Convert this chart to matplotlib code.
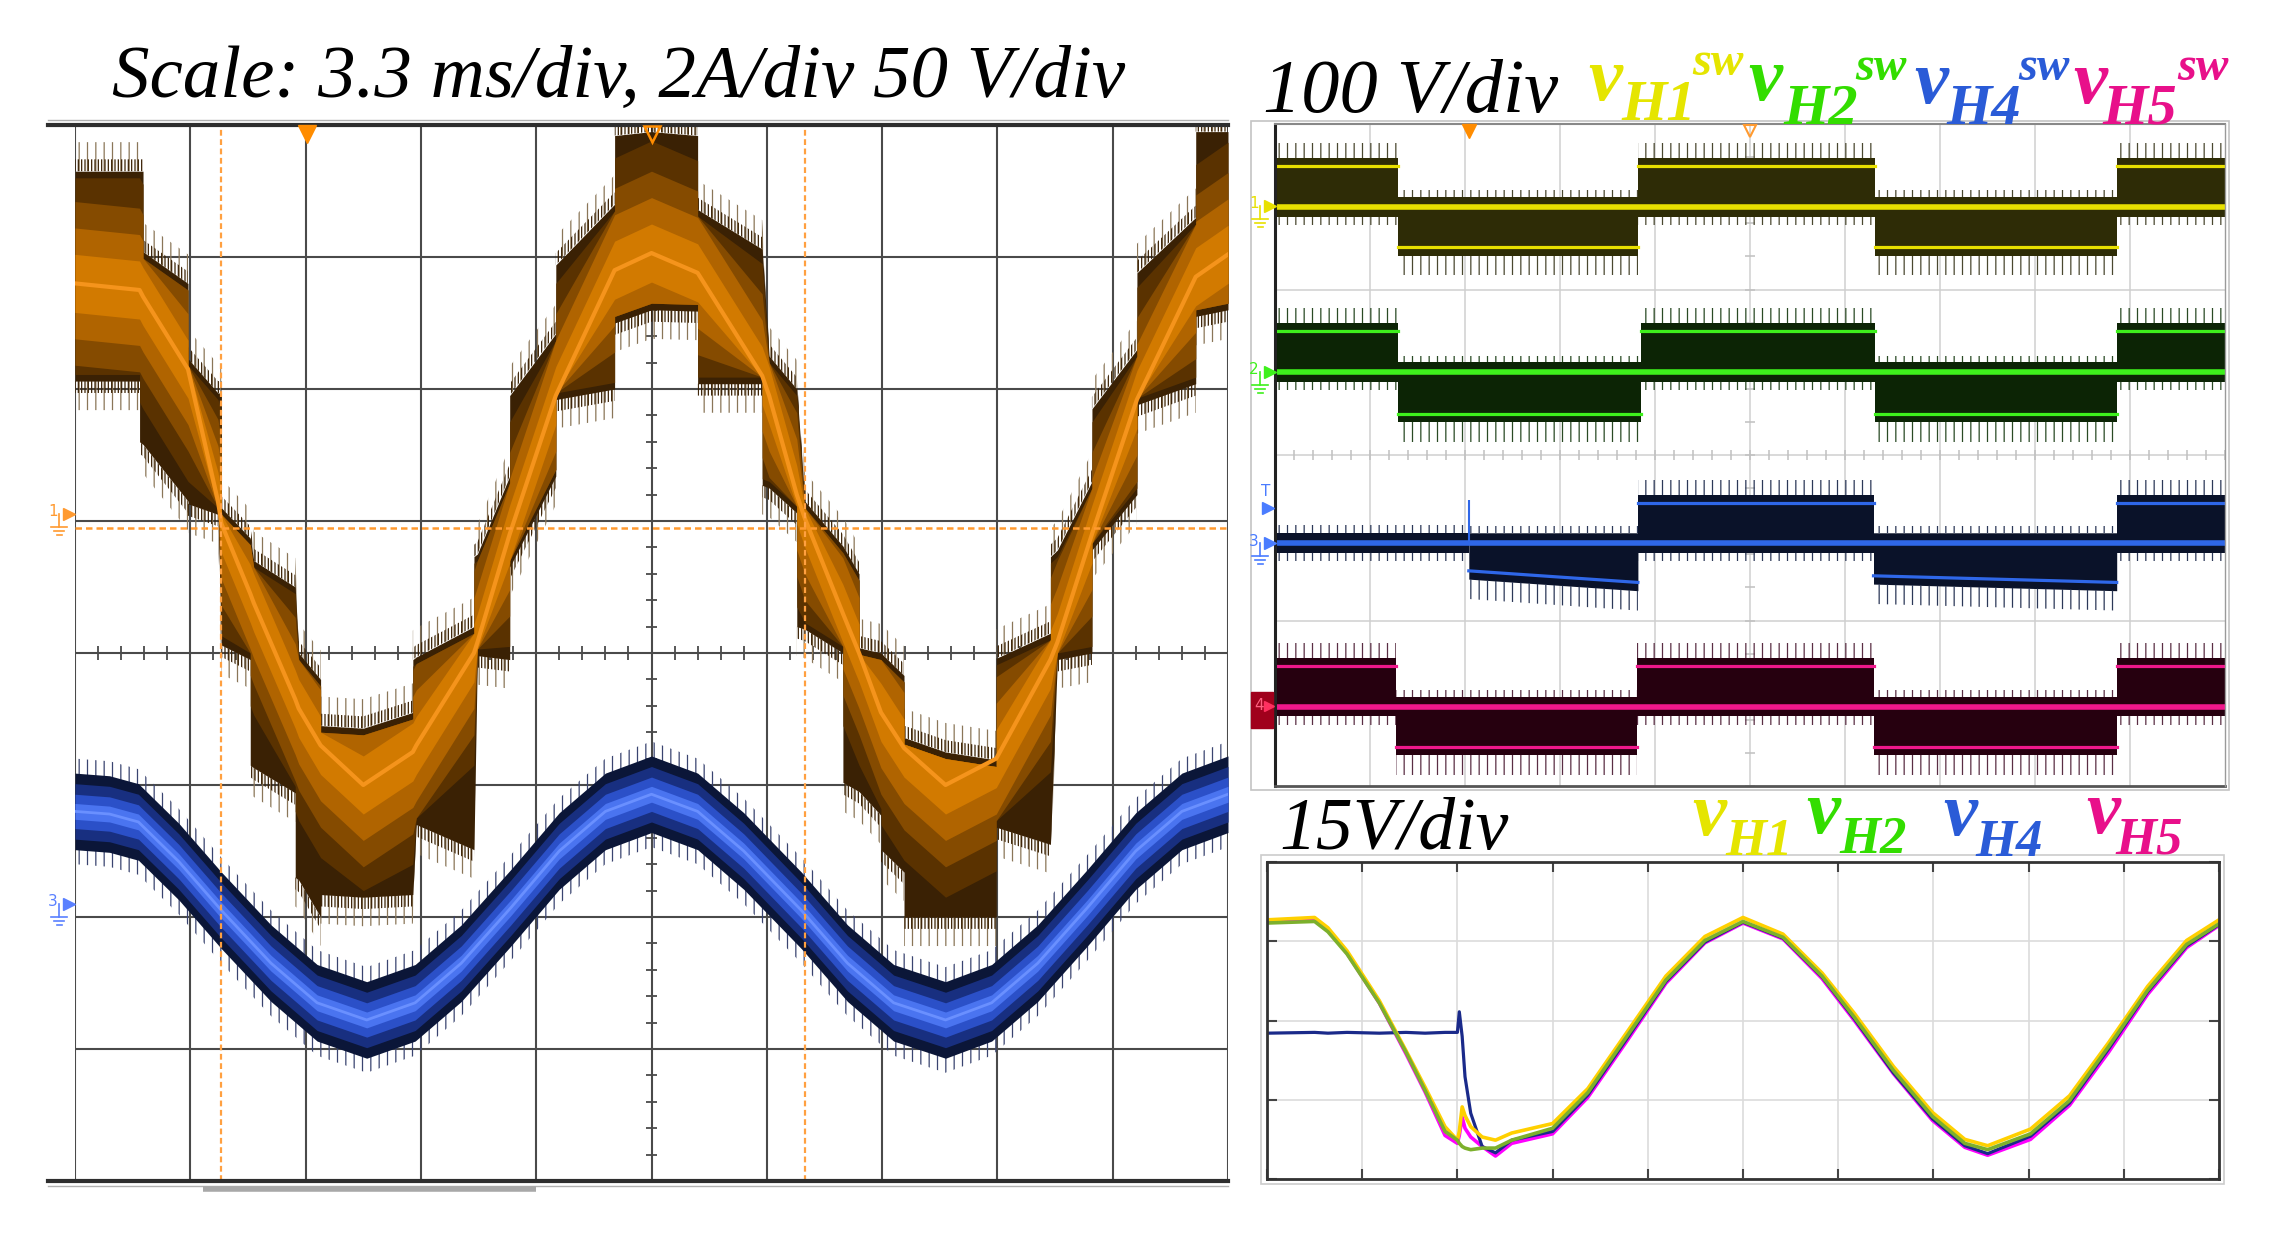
import numpy as np
import matplotlib.pyplot as plt
from matplotlib.patches import Rectangle

plt.rcParams['hatch.linewidth'] = 0.9

W, H = 2270, 1240
SERIF = ['Liberation Serif', 'DejaVu Serif']

# ---- left scope: multilevel voltage (orange) and current (blue), in divisions
ORANGE_X = [0.00, 0.56, 0.56, 0.59, 0.59, 0.98, 0.98, 1.24, 1.27, 1.27, 1.52, 1.52, 1.55,
            1.91, 1.91, 1.94, 2.13, 2.13, 2.50, 2.93, 2.93, 2.96, 3.46, 3.46, 3.49, 3.77,
            3.77, 4.17, 4.17, 4.68, 4.68, 5.00, 5.40, 5.40, 5.96, 5.96, 6.02, 6.26, 6.26,
            6.33, 6.66, 6.66, 6.80, 6.80, 6.99, 6.99, 7.19, 7.19, 7.55, 7.99, 7.99, 8.46,
            8.46, 8.52, 8.82, 8.82, 9.21, 9.21, 9.72, 9.72, 10.0]
ORANGE_TOP = [3.65, 3.65, 3.65, 3.65, 3.04, 2.80, 2.23, 1.97, 1.97, 1.10, 0.87, 0.87, 0.70,
              0.50, 0.50, 0.00, -0.20, -0.55, -0.57, -0.45, -0.05, -0.03, 0.20, 0.73, 0.75, 1.34,
              1.95, 2.42, 2.94, 3.40, 3.92, 3.95, 3.92, 3.36, 3.06, 3.06, 2.25, 2.00, 2.00,
              1.15, 0.81, 0.81, 0.60, 0.04, 0.00, 0.00, -0.17, -0.64, -0.75, -0.81, -0.04, 0.15,
              0.73, 0.78, 1.30, 1.85, 2.30, 2.88, 3.30, 3.95, 3.95]
ORANGE_BOT = [2.06, 2.06, 1.60, 1.58, 1.58, 1.15, 1.13, 1.05, 0.06, 0.06, -0.05, -0.85, -0.87,
              -1.06, -1.70, -1.72, -2.00, -1.83, -1.85, -1.83, -1.83, -1.30, -1.49, -1.49, -0.02, -0.05,
              0.65, 1.34, 1.92, 2.00, 2.50, 2.60, 2.59, 2.04, 2.04, 1.27, 1.25, 1.06, 0.20,
              0.18, 0.00, -0.98, -1.05, -1.05, -1.23, -1.49, -1.66, -2.00, -2.00, -2.00, -1.32, -1.45,
              -1.45, -0.05, 0.00, 0.78, 1.20, 1.88, 2.04, 2.55, 2.60]
ORANGE_MID = [2.80, 2.75, 2.75, 2.70, 2.70, 2.15, 2.15, 1.15, 0.98, 0.98, 0.45, 0.45, 0.38,
              -0.35, -0.35, -0.42, -0.70, -0.70, -1.00, -0.75, -0.75, -0.70, 0.00, 0.00, 0.08, 0.90,
              0.90, 1.95, 1.95, 2.90, 2.90, 3.03, 2.88, 2.88, 2.10, 2.10, 1.95, 1.20, 1.20,
              1.02, 0.30, 0.30, 0.00, 0.00, -0.45, -0.45, -0.72, -0.72, -1.00, -0.80, -0.80, -0.05,
              -0.05, 0.08, 0.90, 0.90, 1.92, 1.92, 2.85, 2.85, 3.02]

BLUE_X = [0.0, 0.3, 0.55, 0.9, 1.27, 1.7, 2.1, 2.53, 2.95, 3.35, 3.78, 4.2, 4.6, 5.0,
          5.4, 5.8, 6.3, 6.7, 7.1, 7.55, 7.95, 8.35, 8.78, 9.2, 9.6, 10.0]
BLUE_MID = [-1.20, -1.22, -1.28, -1.58, -1.95, -2.35, -2.65, -2.78, -2.65, -2.35, -1.93, -1.50,
            -1.20, -1.07, -1.20, -1.50, -1.95, -2.35, -2.65, -2.78, -2.65, -2.35, -1.93, -1.50,
            -1.20, -1.07]

ORANGE_REF = 0.95
CURSOR_X = [1.27, 6.33]

# ---- top right scope: switching voltages (edges in div, state +1/0/-1)
CH_ZERO = [3.5, 2.5, 1.47, 0.48]
H1_EDGES = [0, 1.29, 3.82, 6.32, 8.86, 10]
H1_STATE = [1, -1, 1, -1, 1]
H2_EDGES = [0, 1.29, 3.85, 6.32, 8.86, 10]
H2_STATE = [1, -1, 1, -1, 1]
H4_EDGES = [0, 2.04, 3.82, 6.30, 8.86, 10]
H4_STATE = [0, -1, 1, -1, 1]
H5_EDGES = [0, 1.27, 3.81, 6.30, 8.86, 10]
H5_STATE = [1, -1, 1, -1, 1]
H1_AMP = [(0.245, 0.245)] * 5
H2_AMP = [(0.25, 0.25)] * 5
H4_AMP = [(0, 0), (0.17, 0.24), (0.24, 0.24), (0.20, 0.24), (0.24, 0.24)]
H5_AMP = [(0.245, 0.245)] * 5

# ---- bottom right scope: capacitor voltages, 15 V/div
BT = [0.0, 0.5, 0.64, 0.84, 1.18, 1.46, 1.66, 1.87, 2.0, 2.02, 2.05, 2.08, 2.14, 2.26,
      2.4, 2.57, 3.0, 3.37, 3.78, 4.19, 4.6, 5.0, 5.42, 5.83, 6.17, 6.58, 6.99, 7.33,
      7.57, 8.02, 8.43, 8.84, 9.25, 9.66, 10.0]
V_H1 = [1.27, 1.30, 1.17, 0.88, 0.25, -0.38, -0.84, -1.34, -1.51, -1.40, -1.09, -1.20, -1.34,
        -1.47, -1.51, -1.42, -1.30, -0.86, -0.15, 0.56, 1.06, 1.30, 1.09, 0.60, 0.09, -0.58,
        -1.16, -1.50, -1.58, -1.37, -0.95, -0.28, 0.43, 1.01, 1.27]
V_H2 = [1.23, 1.25, 1.12, 0.84, 0.22, -0.40, -0.88, -1.40, -1.51, -1.55, -1.59, -1.61, -1.63,
        -1.61, -1.61, -1.51, -1.36, -0.91, -0.20, 0.51, 1.01, 1.25, 1.05, 0.56, 0.04, -0.63,
        -1.21, -1.55, -1.63, -1.43, -1.01, -0.33, 0.38, 0.96, 1.22]
V_H4 = [-0.16, -0.15, -0.16, -0.15, -0.16, -0.15, -0.16, -0.15, -0.15, 0.11, -0.20, -0.71, -1.17,
        -1.59, -1.67, -1.51, -1.40, -0.94, -0.23, 0.49, 0.99, 1.24, 1.04, 0.55, 0.02, -0.66,
        -1.24, -1.58, -1.68, -1.46, -1.04, -0.36, 0.36, 0.94, 1.21]
V_H5 = [1.25, 1.27, 1.14, 0.85, 0.22, -0.42, -0.90, -1.45, -1.55, -1.45, -1.22, -1.36, -1.47,
        -1.59, -1.71, -1.55, -1.43, -0.97, -0.26, 0.47, 0.98, 1.23, 1.03, 0.53, 0.00, -0.67,
        -1.26, -1.60, -1.70, -1.50, -1.07, -0.40, 0.33, 0.92, 1.20]


def rect(x0, y0, x1, y1):
    return [x0 / W, 1 - y1 / H, (x1 - x0) / W, (y1 - y0) / H]


def fringe(ax, x, y0, y1, color, hatch, z):
    ax.fill_between(x, y0, y1, facecolor='none', edgecolor=color, hatch=hatch,
                    linewidth=0, zorder=z)


fig = plt.figure(figsize=(W / 100, H / 100), dpi=100)
fig.patch.set_facecolor('white')

# ================= left scope =================
axl = fig.add_axes(rect(75, 125, 1228, 1181))
axl.set_xlim(0, 10)
axl.set_ylim(-4, 4)
axl.axis('off')
for gx in range(11):
    axl.axvline(gx, color='#4a4a4a', lw=1.5, zorder=1)
for gy in range(-3, 4):
    axl.axhline(gy, color='#4a4a4a', lw=1.5, zorder=1)
axl.hlines(np.arange(-4, 4.01, 0.2), 4.95, 5.05, color='#4a4a4a', lw=1.3, zorder=1)
axl.vlines(np.arange(0, 10.01, 0.2), -0.05, 0.05, color='#4a4a4a', lw=1.3, zorder=1)
for yb in (4, -4):
    axl.plot([-0.235, 10.0], [yb, yb], color='#2e2e2e', lw=3, clip_on=False, zorder=6)
    axl.plot([-0.235, 10.0], [yb + 0.035 * np.sign(yb)] * 2, color='#b0b0b0', lw=1,
             clip_on=False, zorder=6)

ox = np.array(ORANGE_X)
otop = np.array(ORANGE_TOP)
obot = np.array(ORANGE_BOT)
omid = np.array(ORANGE_MID)
fringe(axl, ox, otop, otop + 0.22, '#8a7658', '||', 2)
fringe(axl, ox, obot - 0.22, obot, '#8a7658', '||', 2)
fringe(axl, ox, otop, otop + 0.09, '#3a2104', '|||||', 2)
fringe(axl, ox, obot - 0.09, obot, '#3a2104', '|||||', 2)
axl.fill_between(ox, obot, otop, color='#3a2104', lw=0, zorder=3)
# glow that follows the mean line, clipped by the staircase envelope
for hw, col in [(0.85, '#5a3200'), (0.62, '#854b00'), (0.42, '#b06400'), (0.22, '#d27a00')]:
    axl.fill_between(ox, np.maximum(omid - hw, obot + 0.05), np.minimum(omid + hw, otop - 0.05),
                     color=col, lw=0, zorder=3)
axl.plot(ox, omid, color='#f5941c', lw=3, zorder=3)

bx = np.array(BLUE_X)
bmid = np.array(BLUE_MID)
fringe(axl, bx, bmid + 0.26, bmid + 0.40, '#3a4470', '||', 2)
fringe(axl, bx, bmid - 0.40, bmid - 0.26, '#3a4470', '||', 2)
for hw, col in [(0.29, '#0b1638'), (0.21, '#182f80'), (0.13, '#2b50c8'), (0.06, '#4a74f0')]:
    axl.fill_between(bx, bmid - hw, bmid + hw, color=col, lw=0, zorder=3)
axl.plot(bx, bmid, color='#6a90ff', lw=2, zorder=3)

axl.axhline(ORANGE_REF, color='#ff9a30', lw=1.8, dashes=(2.6, 1.6), zorder=5)
for cx in CURSOR_X:
    axl.axvline(cx, color='#ffa040', lw=1.6, dashes=(2.6, 1.6), zorder=5)
axl.plot([2.01], [3.93], marker='v', ms=13, color='#ff8c00', clip_on=False, zorder=7)
axl.plot([5.0], [3.93], marker='v', ms=11, mfc='none', mec='#ff8c00', mew=1.8,
         clip_on=False, zorder=7)

# ================= top right scope =================
axr = fig.add_axes(rect(1275, 124, 2225, 786))
axr.set_xlim(0, 10)
axr.set_ylim(0, 4)
axr.axis('off')
for gx in range(1, 10):
    axr.axvline(gx, color='#cfcfcf', lw=1.1, zorder=1)
for gy in (1, 2, 3):
    axr.axhline(gy, color='#cfcfcf', lw=1.1, zorder=1)
axr.hlines(np.arange(0, 4.01, 0.2), 4.95, 5.05, color='#c0c0c0', lw=1.1, zorder=1)
axr.vlines(np.arange(0, 10.01, 0.2), 1.97, 2.03, color='#c0c0c0', lw=1.1, zorder=1)
axr.plot([0, 0], [0, 4], color='#222222', lw=2.2, clip_on=False, zorder=8)
axr.plot([0, 10], [0, 0], color='#555555', lw=2, clip_on=False, zorder=8)
axr.plot([0, 10], [4, 4], color='#888888', lw=1.5, clip_on=False, zorder=8)
axr.plot([10, 10], [0, 4], color='#9a9a9a', lw=1, clip_on=False, zorder=8)

CHANNELS = [
    (CH_ZERO[0], H1_EDGES, H1_STATE, H1_AMP, '#e8e000', '#2e2c06', '#4a4830'),
    (CH_ZERO[1], H2_EDGES, H2_STATE, H2_AMP, '#3ef01c', '#0c2405', '#2a4a24'),
    (CH_ZERO[2], H4_EDGES, H4_STATE, H4_AMP, '#2f67e8', '#0a1229', '#2c3858'),
    (CH_ZERO[3], H5_EDGES, H5_STATE, H5_AMP, '#f0188c', '#26000f', '#5a2e44'),
]
for zero, edges, states, amps, lc, bc, sc in CHANNELS:
    for i, st in enumerate(states):
        seg = np.array([edges[i], edges[i + 1]])
        lvl = zero + st * np.array(amps[i])
        if st == 0:
            axr.fill_between(seg, zero - 0.06, zero + 0.06, color=bc, lw=0, zorder=2)
            fringe(axr, seg, zero + 0.06, zero + 0.11, sc, '||', 2)
            fringe(axr, seg, zero - 0.11, zero - 0.06, sc, '||', 2)
        elif st > 0:
            axr.fill_between(seg, zero - 0.06, lvl + 0.05, color=bc, lw=0, zorder=2)
            fringe(axr, seg, lvl + 0.05, lvl + 0.14, sc, '||', 2)
            fringe(axr, seg, zero - 0.11, zero - 0.06, sc, '||', 2)
            axr.plot(seg, lvl, color=lc, lw=2.3, zorder=3)
        else:
            axr.fill_between(seg, lvl - 0.05, zero + 0.06, color=bc, lw=0, zorder=2)
            fringe(axr, seg, lvl - 0.17, lvl - 0.05, sc, '||', 2)
            fringe(axr, seg, zero + 0.06, zero + 0.10, sc, '||', 2)
            axr.plot(seg, lvl, color=lc, lw=2.3, zorder=3)
    axr.plot([0, 10], [zero, zero], color=lc, lw=4, zorder=3)
axr.vlines([H4_EDGES[1]], CH_ZERO[2], CH_ZERO[2] + 0.26, color='#2f67e8', lw=1.5, zorder=3)
axr.plot([2.04], [3.96], marker='v', ms=10, color='#ff8c00', clip_on=False, zorder=9)
axr.plot([5.0], [3.96], marker='v', ms=9, mfc='none', mec='#ff9a30', mew=1.5,
         clip_on=False, zorder=9)

# ================= bottom right scope =================
axb = fig.add_axes(rect(1267, 862, 2219, 1179))
axb.set_xlim(0, 10)
axb.set_ylim(-2, 2)
axb.set_xticks(range(11))
axb.set_yticks(range(-2, 3))
axb.grid(True, color='#dcdcdc', lw=1.2)
axb.tick_params(direction='in', length=7, width=1.5, color='#444444', top=True, right=True,
                labelbottom=False, labelleft=False)
for sp in axb.spines.values():
    sp.set_color('#333333')
    sp.set_linewidth(2)
axb.plot(BT, V_H5, color='#ff00ff', lw=2.6)
axb.plot(BT, V_H4, color='#1a2a8a', lw=2.3)
axb.plot(BT, V_H1, color='#ffd000', lw=2.6)
axb.plot(BT, V_H2, color='#7cb02c', lw=2.6)

# ================= overlay: frames, markers and texts (pixel coordinates) =================
ov = fig.add_axes([0, 0, 1, 1], zorder=10)
ov.set_xlim(0, W)
ov.set_ylim(H, 0)
ov.axis('off')
ov.add_patch(Rectangle((1251, 121), 978, 669, fill=False, ec='#c4c4c4', lw=1.2))
ov.add_patch(Rectangle((1261, 855), 963, 329, fill=False, ec='#cccccc', lw=1.2))
ov.plot([203, 536], [1189, 1189], color='#a8a8a8', lw=4, solid_capstyle='butt')


def chan_marker(x, y, label, color):
    ov.text(x - 9, y - 2, label, color=color, fontsize=11, ha='right', va='center',
            family='DejaVu Sans')
    ov.plot([x + 2], [y], marker='>', color=color, ms=8)
    ov.plot([x - 8, x - 8], [y, y + 13], color=color, lw=1.2)
    for dy, hw in [(13, 8), (17, 5), (21, 2.5)]:
        ov.plot([x - 8 - hw, x - 8 + hw], [y + dy, y + dy], color=color, lw=1.2)


chan_marker(67, 514, '1', '#ff9a30')
chan_marker(67, 904, '3', '#5a80ff')
chan_marker(1268, 206, '1', '#e8e000')
chan_marker(1268, 372, '2', '#3ef01c')
chan_marker(1268, 543, '3', '#4a7cff')
ov.text(1266, 491, 'T', color='#4a7cff', fontsize=11, ha='center', va='center',
        family='DejaVu Sans')
ov.plot([1268], [508], marker='>', color='#4a7cff', ms=8)
ov.add_patch(Rectangle((1251, 692), 22, 36, color='#a0001c'))
ov.text(1259, 706, '4', color='#ff6080', fontsize=11, ha='center', va='center',
        family='DejaVu Sans')
ov.plot([1269], [706], marker='>', color='#ff3060', ms=7)

ov.text(112, 97, 'Scale: 3.3 ms/div, 2A/div 50 V/div', fontsize=54, style='italic',
        family=SERIF, ha='left', va='baseline')
ov.text(1263, 112, '100 V/div', fontsize=55, style='italic', family=SERIF,
        ha='left', va='baseline')
ov.text(1279, 849, '15V/div', fontsize=53, style='italic', family=SERIF,
        ha='left', va='baseline')

LABELS_TOP = [('H1', '#e5e500', 1588, 100, 1621, 120, 1692, 75),
              ('H2', '#33dd00', 1748, 100, 1783, 124, 1855, 80),
              ('H4', '#2a5bd7', 1914, 103, 1946, 124, 2018, 80),
              ('H5', '#e8108a', 2073, 103, 2102, 124, 2177, 80)]
for sub, col, vx, vy, hx, hy, sx, sy in LABELS_TOP:
    kw = dict(color=col, style='italic', weight='bold', family=SERIF, ha='left', va='baseline')
    ov.text(vx, vy, 'v', fontsize=55, **kw)
    ov.text(hx, hy, sub, fontsize=42, **kw)
    ov.text(sx, sy, 'sw', fontsize=35, **kw)

LABELS_BOT = [('H1', '#e5e500', 1692, 835, 1725, 855),
              ('H2', '#33dd00', 1806, 833, 1839, 853),
              ('H4', '#2a5bd7', 1943, 835, 1975, 856),
              ('H5', '#e8108a', 2086, 833, 2115, 853)]
for sub, col, vx, vy, hx, hy in LABELS_BOT:
    kw = dict(color=col, style='italic', weight='bold', family=SERIF, ha='left', va='baseline')
    ov.text(vx, vy, 'v', fontsize=55, **kw)
    ov.text(hx, hy, sub, fontsize=38, **kw)

fig.savefig('out.png', dpi=100)
